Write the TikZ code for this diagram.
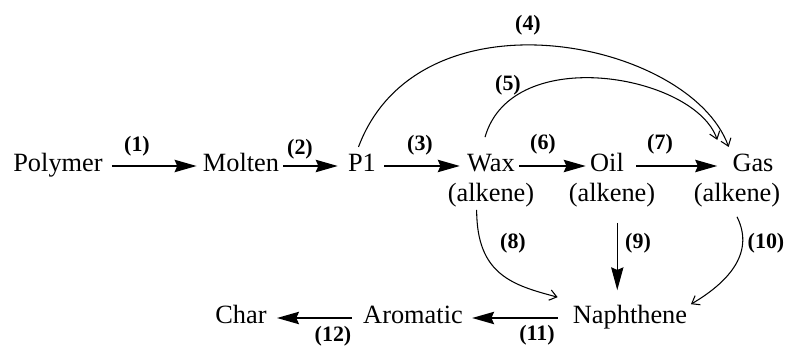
\documentclass[tikz,border=0pt]{standalone}
\usepackage{fontspec}
\setmainfont{Liberation Serif}
\usetikzlibrary{arrows.meta}

\begin{document}
\begin{tikzpicture}[
    x=0.02cm, y=-0.02cm,
    species/.style={inner xsep=2pt, inner ysep=0pt, text height=10pt, text depth=3.3pt, font=\fontsize{15}{17}\selectfont},
    rxn/.style={inner sep=0pt, font=\fontsize{12.5}{14}\selectfont\bfseries},
    flow/.style={-{Stealth[length=12.5pt, width=7pt, inset=1.5pt]}, line width=1.1pt, shorten <=2pt, shorten >=2pt},
    drop/.style={-{Stealth[length=13pt, width=7pt, inset=1.5pt]}, line width=0.6pt},
    curved/.style={-{Straight Barb[length=4pt, width=6pt]}, line width=0.6pt}
]
\useasboundingbox (0,0) rectangle (787,347);

% species
\node[species] (poly) at (58,166) {Polymer};
\node[species] (molten) at (241,166) {Molten};
\node[species] (pone) at (362,166) {P1};
\node[species] (wax) at (491,166) {Wax};
\node[species] (oil) at (607,166) {Oil};
\node[species] (gas) at (753,166) {Gas};
\node[species] (waxk) at (491,196) {(alkene)};
\node[species] (oilk) at (612,196) {(alkene)};
\node[species] (gask) at (737,196) {(alkene)};
\node[species] (naph) at (630,318) {Naphthene};
\node[species] (arom) at (413,318) {Aromatic};
\node[species] (char) at (241,318) {Char};

% reaction numbers
\node[rxn] (r1) at (137,146) {(1)};
\node[rxn] (r2) at (300,149) {(2)};
\node[rxn] (r3) at (420,145) {(3)};
\node[rxn] (r4) at (528,25) {(4)};
\node[rxn] (r5) at (508,85) {(5)};
\node[rxn] (r6) at (543,144) {(6)};
\node[rxn] (r7) at (660,144) {(7)};
\node[rxn] (r8) at (513,243) {(8)};
\node[rxn] (r9) at (638,243) {(9)};
\node[rxn] (r10) at (766,243) {(10)};
\node[rxn] (r11) at (537,335) {(11)};
\node[rxn] (r12) at (333,336) {(12)};

% main chain
\draw[flow, shorten <=3.1pt, shorten >=1.4pt] (poly) -- (molten);
\draw[flow, shorten <=0.3pt, shorten >=3.7pt] (molten) -- (pone);
\draw[flow, shorten <=2.6pt, shorten >=2pt] (pone) -- (wax);
\draw[flow, shorten <=0.3pt, shorten >=0.3pt] (wax) -- (oil);
\draw[flow, shorten <=4.8pt, shorten >=6.5pt] (oil) -- (gas);
\draw[flow, shorten <=6.5pt, shorten >=3.1pt] (naph) -- (arom);
\draw[flow, shorten <=4.3pt, shorten >=3.7pt] (arom) -- (char);

% arcs to gas
\draw[curved] ([xshift=-2pt, yshift=4pt]pone.north) .. controls +(61,-162) and +(-39,-107) .. ([yshift=4pt]gas.north west);
\draw[curved] ([xshift=-3.4pt, yshift=9.6pt]wax.north) .. controls +(27,-95) and +(-22,-65) .. ([xshift=-6.5pt, yshift=8pt]gas.north west);

% down to naphthene
\draw[curved] ([yshift=-1pt]waxk.-140) .. controls +(0,65) and +(-45,-12) .. ([xshift=-6.5pt, yshift=5pt]naph.north west);
\draw[drop, shorten <=8.5pt, shorten >=9pt] ([xshift=3pt]oilk.south) -- ([xshift=3pt]oilk.south |- naph.north);
\draw[curved] ([yshift=-5pt]gask.south) .. controls +(19,38) and +(34,-20) .. ([yshift=1pt]naph.north east);
\end{tikzpicture}
\end{document}
